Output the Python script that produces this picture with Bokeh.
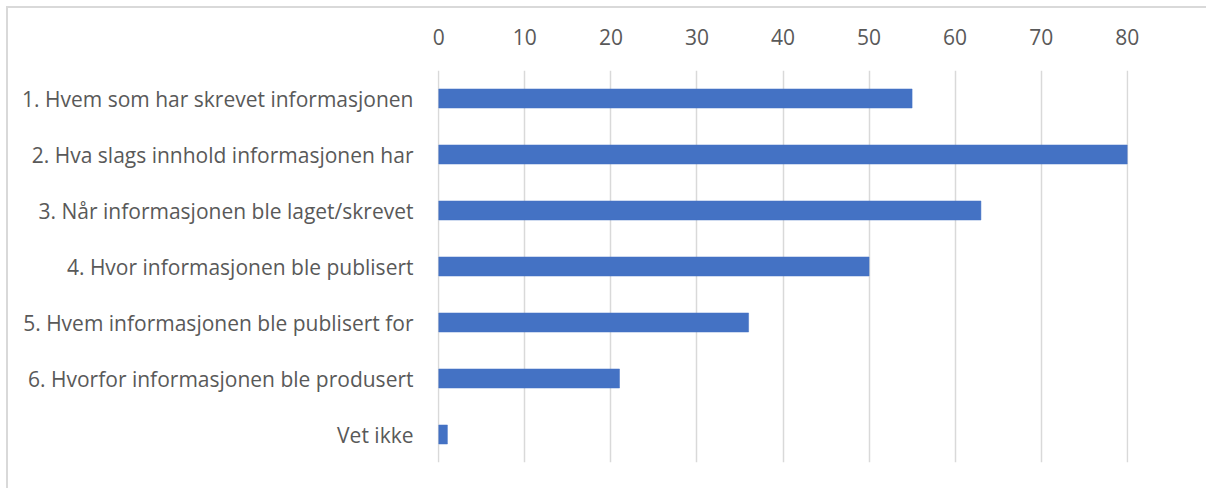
from bokeh.plotting import figure
from bokeh.models import FactorRange, Range1d, FixedTicker
from bokeh.embed import file_html
from bokeh.resources import INLINE

categories = [
    "1. Hvem som har skrevet informasjonen",
    "2. Hva slags innhold informasjonen har",
    "3. Når informasjonen ble laget/skrevet",
    "4. Hvor informasjonen ble publisert",
    "5. Hvem informasjonen ble publisert for",
    "6. Hvorfor informasjonen ble produsert",
    "Vet ikke",
]
values = [55, 80, 63, 50, 36, 21, 1]
x_ticks = [0, 10, 20, 30, 40, 50, 60, 70, 80]

FONT = "Open Sans"
TEXT_COLOR = "#595959"
GRID_COLOR = "#d9d9d9"

OFF = 8  # offset of the outer chart border

p = figure(
    width=1230 - OFF, height=500 - OFF,
    y_range=FactorRange(factors=list(reversed(categories)), range_padding=0),
    x_range=Range1d(-0.15, 80.15),
    x_axis_location="above",
    output_backend="svg", toolbar_location=None,
    min_border_left=437 - OFF, min_border_right=102,
    min_border_top=70 - OFF, min_border_bottom=38,
)
p.styles = {
    "margin-left": "6px", "margin-top": "6px",
    "border-left": "2px solid #d9d9d9", "border-top": "2px solid #d9d9d9",
}
p.outline_line_color = None
p.background_fill_color = "white"
p.border_fill_color = "white"

p.hbar(y=categories, right=values, left=0, height=0.34,
       fill_color="#4472C4", line_color="#4472C4", line_width=0.5)

p.xaxis.ticker = FixedTicker(ticks=x_ticks)
for ax in (p.xaxis, p.yaxis):
    ax.axis_line_color = None
    ax.major_tick_line_color = None
    ax.minor_tick_line_color = None
    ax.major_label_text_font = FONT
    ax.major_label_text_font_size = "21px"
    ax.major_label_text_color = TEXT_COLOR
p.xaxis.major_label_standoff = 20
p.yaxis.major_label_standoff = 18

p.xgrid.grid_line_color = GRID_COLOR
p.xgrid.grid_line_width = 1.5
p.ygrid.grid_line_color = None

open("out.html", "w").write(file_html(p, INLINE))
